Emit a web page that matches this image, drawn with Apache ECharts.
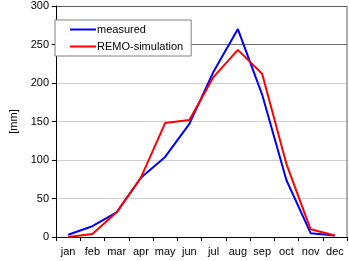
<!DOCTYPE html>
<html>
<head>
<meta charset="utf-8">
<script src="https://cdn.jsdelivr.net/npm/echarts@6/dist/echarts.min.js"></script>
<style>
  html, body { margin: 0; padding: 0; background: #fff; }
  #fig_precip { width: 349px; height: 261px; }
</style>
</head>
<body>
<div id="fig_precip"></div>
<script>
// monthly values
var months = ['jan', 'feb', 'mar', 'apr', 'may', 'jun', 'jul', 'aug', 'sep', 'oct', 'nov', 'dec'];
var measured = [3, 14, 32, 77, 104, 147, 215, 270, 185, 74, 5, 2];
var remo_sim = [0, 4, 32, 77, 148, 152, 208, 243, 212, 95, 10, 2];

var fig_precip = {
    plot_id: 'fig_precip',
    plot_chart: null,

    init: function() {
        var txt = { color: '#000', fontFamily: 'Liberation Sans, Arial', fontSize: 11 };
        this.option = {
            animation: false,
            grid: {
                top: 6,
                right: 2,
                bottom: 24,
                left: 45
            },
            legend: {
                data: ['measured', 'REMO-simulation'],
                orient: 'vertical',
                left: 55,
                top: 20,
                itemWidth: 26,
                itemHeight: 2,
                itemGap: 6,
                padding: [4, 8, 4, 15],
                backgroundColor: '#fff',
                borderColor: '#808080',
                borderWidth: 1,
                icon: 'rect',
                textStyle: { color: '#000', fontFamily: 'Liberation Sans, Arial', fontSize: 11, padding: [0, 0, 0, -4] }
            },
            xAxis: {
                type: 'category',
                data: months,
                boundaryGap: true,
                axisLine: { lineStyle: { color: '#000', width: 1 } },
                axisTick: { show: true, length: 4, lineStyle: { color: '#000' } },
                axisLabel: Object.assign({ margin: 9, interval: 0 }, txt)
            },
            yAxis: {
                type: 'value',
                min: 0,
                max: 300,
                interval: 50,
                name: '[mm]',
                nameLocation: 'center',
                nameGap: 37,
                nameTextStyle: txt,
                axisLine: { show: true, lineStyle: { color: '#000', width: 1 } },
                axisTick: { show: true, length: 4, lineStyle: { color: '#000' } },
                axisLabel: Object.assign({ margin: 7 }, txt),
                splitLine: {
                    lineStyle: {
                        color: ['#d0d0d0', '#d0d0d0', '#d0d0d0', '#d0d0d0', '#d0d0d0', '#707070', '#606060'],
                        width: 1
                    }
                }
            },
            series: [
                {
                    name: 'measured',
                    type: 'line',
                    data: measured,
                    symbol: 'none',
                    color: '#0000ff',
                    lineStyle: { width: 2, color: '#0000ff' },
                    z: 2
                },
                {
                    name: 'REMO-simulation',
                    type: 'line',
                    data: remo_sim,
                    symbol: 'none',
                    color: '#ff0000',
                    lineStyle: { width: 2, color: '#ff0000' },
                    z: 3
                }
            ]
        };
        this.plot_chart = echarts.init(document.getElementById(this.plot_id));
        this.plot_chart.setOption(this.option);
    }
};

fig_precip.init();

// right border of the plot area
fig_precip.plot_chart.setOption({
    graphic: [{
        type: 'line',
        shape: { x1: 347, y1: 6, x2: 347, y2: 237 },
        style: { stroke: '#606060', lineWidth: 1 }
    }]
});
</script>
</body>
</html>
